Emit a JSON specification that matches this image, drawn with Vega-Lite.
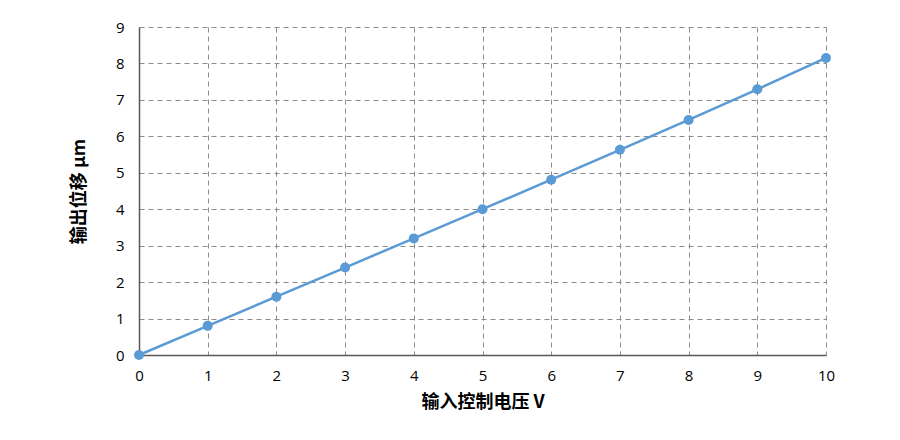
{
  "$schema": "https://vega.github.io/schema/vega-lite/v6.json",
  "autosize": {"type": "none"},
  "padding": {"left": 139, "top": 27, "right": 74, "bottom": 85},
  "width": 687,
  "height": 328,
  "background": "white",
  "data": {"values": [
    {"v": 0, "d": 0},
    {"v": 1, "d": 0.8},
    {"v": 2, "d": 1.6},
    {"v": 3, "d": 2.4},
    {"v": 4, "d": 3.2},
    {"v": 5, "d": 4.0},
    {"v": 6, "d": 4.81},
    {"v": 7, "d": 5.63},
    {"v": 8, "d": 6.45},
    {"v": 9, "d": 7.29},
    {"v": 10, "d": 8.15}
  ]},
  "config": {
    "view": {"stroke": null},
    "axis": {
      "labelFont": "Open Sans",
      "labelFontSize": 15,
      "labelColor": "#000000",
      "titleFont": "Noto Sans CJK SC",
      "titleFontSize": 18,
      "titleFontWeight": "bold",
      "titleColor": "#000000",
      "ticks": false,
      "domainColor": "#595959",
      "domainWidth": 1.5,
      "gridColor": "#8c8c8c",
      "gridDash": [5, 4],
      "gridWidth": 1
    }
  },
  "encoding": {
    "x": {
      "field": "v", "type": "quantitative",
      "scale": {"domain": [0, 10], "nice": false},
      "axis": {"title": "输入控制电压 V", "values": [0,1,2,3,4,5,6,7,8,9,10], "labelPadding": 13, "titlePadding": 10, "labelFlush": false}
    },
    "y": {
      "field": "d", "type": "quantitative",
      "scale": {"domain": [0, 9], "nice": false},
      "axis": {"title": "输出位移 μm", "values": [0,1,2,3,4,5,6,7,8,9], "labelPadding": 15, "titlePadding": 27, "labelFlush": false}
    }
  },
  "layer": [
    {"mark": {"type": "line", "color": "#5b9bd5", "strokeWidth": 2.5}},
    {"mark": {"type": "point", "filled": true, "color": "#5b9bd5", "size": 100, "opacity": 1}}
  ]
}
